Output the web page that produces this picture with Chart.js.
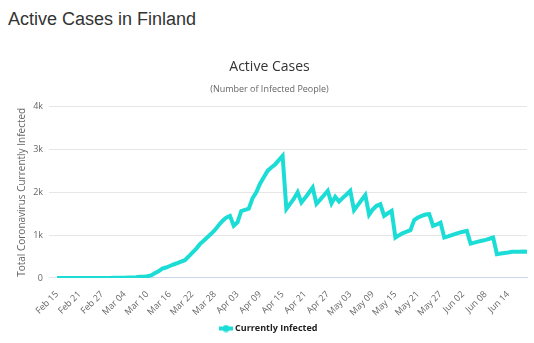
<!DOCTYPE html>
<html lang="en">
<head>
    <meta charset="UTF-8">
    <title>Active Cases in Finland</title>
    <script src="https://cdn.jsdelivr.net/npm/chart.js"></script>
    <style>
        body {
            margin: 0;
            padding: 0;
            background: #fff;
            width: 534px;
            height: 343px;
            overflow: hidden;
        }

        h2 {
            position: absolute;
            left: 8px;
            top: 9px;
            margin: 0;
            font-family: "Liberation Sans", Arial, sans-serif;
            font-weight: normal;
            font-size: 18px;
            color: #333;
        }

        .chart-box {
            position: absolute;
            left: 0;
            top: 40px;
            width: 534px;
            height: 303px;
        }
    </style>
</head>
<body>
    <h2>Active Cases in Finland</h2>
    <div class="chart-box">
        <canvas id="activeChart"></canvas>
    </div>

    <script>
        // dates: Feb 15 .. Jun 19, 2020
        const months = ['Jan', 'Feb', 'Mar', 'Apr', 'May', 'Jun', 'Jul'];
        const startDate = new Date(2020, 1, 15);
        const dayCount = 126;

        const currentlyInfected = [
            0, 0, 0, 0, 0, 0, 0, 0, 0, 0,
            0, 1, 2, 2, 2, 5, 6, 6, 6, 11,
            14, 18, 29, 29, 40, 60, 110, 155, 220, 245,
            280, 315, 345, 380, 415, 500, 590, 680, 790, 870,
            950, 1030, 1120, 1230, 1330, 1410, 1450, 1220, 1300, 1560,
            1590, 1620, 1860, 2000, 2200, 2350, 2500, 2580, 2650, 2750,
            2850, 1610, 1730, 1850, 2000, 1760, 1870, 1990, 2110, 1730,
            1830, 1930, 2035, 1740, 1895, 1785, 1870, 1950, 2035, 1584,
            1700, 1820, 1935, 1474, 1600, 1684, 1720, 1450, 1510, 1567,
            943, 1000, 1050, 1080, 1115, 1350, 1411, 1450, 1480, 1490,
            1216, 1250, 1294, 943, 970, 1000, 1030, 1060, 1080, 1100,
            802, 825, 850, 870, 890, 915, 943, 554, 570, 585,
            595, 610, 615, 615, 618, 615
        ];

        const yTicks = [0, 1000, 2000, 3000, 4000];
        const yTickLabels = ['0', '1k', '2k', '3k', '4k'];

        const labels = [];
        for (let i = 0; i < dayCount; i++) {
            const d = new Date(startDate.getTime());
            d.setDate(d.getDate() + i);
            labels.push(months[d.getMonth()] + ' ' + String(d.getDate()).padStart(2, '0'));
        }

        const lineColor = 'rgb(28, 221, 214)';

        // legend marker: short line with a dot
        const marker = document.createElement('canvas');
        marker.width = 14;
        marker.height = 8;
        const mctx = marker.getContext('2d');
        mctx.strokeStyle = lineColor;
        mctx.lineWidth = 4;
        mctx.beginPath();
        mctx.moveTo(0, 4);
        mctx.lineTo(14, 4);
        mctx.stroke();
        mctx.fillStyle = lineColor;
        mctx.beginPath();
        mctx.arc(7, 4, 3.5, 0, Math.PI * 2);
        mctx.fill();

        Chart.defaults.font.family = '"Open Sans", "Noto Sans", sans-serif';

        new Chart(document.getElementById('activeChart'), {
            type: 'line',
            data: {
                labels: labels,
                datasets: [{
                    label: 'Currently Infected',
                    data: currentlyInfected,
                    borderColor: lineColor,
                    backgroundColor: lineColor,
                    borderWidth: 4,
                    pointRadius: 0,
                    pointStyle: marker,
                    tension: 0
                }]
            },
            options: {
                responsive: true,
                maintainAspectRatio: false,
                animation: false,
                layout: {
                    padding: { left: 12, right: 7, top: 0, bottom: 0 }
                },
                plugins: {
                    title: {
                        display: true,
                        text: 'Active Cases',
                        color: '#333',
                        font: { size: 14, weight: 'normal' },
                        padding: { top: 19, bottom: 6 }
                    },
                    subtitle: {
                        display: true,
                        text: '(Number of Infected People)',
                        color: '#666',
                        font: { size: 9 },
                        padding: { top: 2, bottom: 12 }
                    },
                    legend: {
                        position: 'bottom',
                        labels: {
                            usePointStyle: true,
                            color: '#222',
                            font: { size: 9, weight: 'bold' },
                            padding: 3
                        }
                    },
                    tooltip: { enabled: false }
                },
                scales: {
                    x: {
                        grid: { display: false },
                        border: { color: '#ccd6eb' },
                        ticks: {
                            autoSkip: false,
                            maxRotation: 45,
                            minRotation: 45,
                            color: '#666',
                            font: { size: 9 },
                            callback: function (value, index) {
                                return index % 6 === 0 ? labels[index] : null;
                            }
                        }
                    },
                    y: {
                        min: 0,
                        max: 4000,
                        afterBuildTicks: function (axis) {
                            axis.ticks = yTicks.map(v => ({ value: v }));
                        },
                        afterFit: function (axis) {
                            axis.width = 45;
                        },
                        grid: { color: '#e6e6e6' },
                        border: { display: false },
                        ticks: {
                            color: '#666',
                            font: { size: 9 },
                            padding: 6,
                            callback: function (value) {
                                return yTickLabels[yTicks.indexOf(value)];
                            }
                        },
                        title: {
                            display: true,
                            text: 'Total Coronavirus Currently Infected',
                            color: '#666',
                            font: { size: 10 }
                        }
                    }
                }
            }
        });
    </script>
</body>
</html>
